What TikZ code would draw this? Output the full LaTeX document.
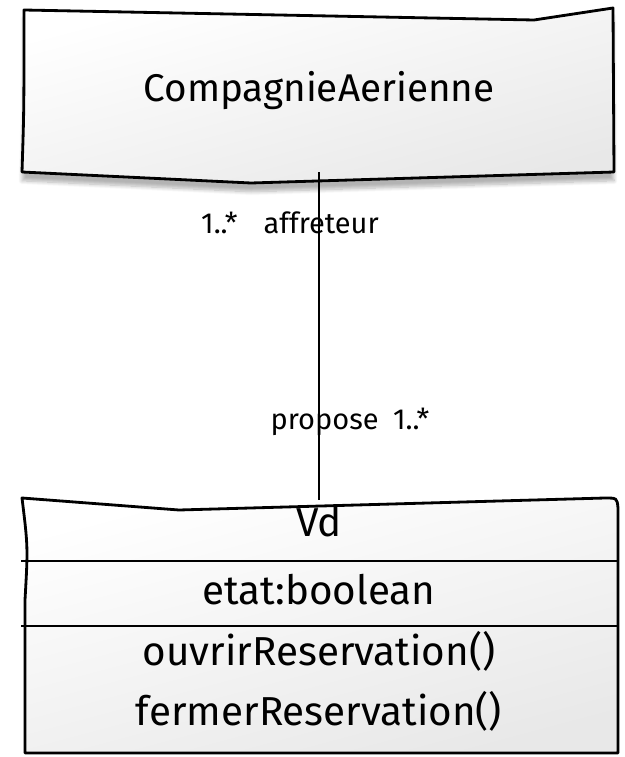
\documentclass[tikz,border=0pt]{standalone}
\usepackage{fontspec}
\setmainfont{Fira Sans}
\usetikzlibrary{shadows.blur}

\begin{document}
\begin{tikzpicture}[x=0.02cm, y=-0.02cm,
  box/.style={line width=1.6pt, line join=round, shading=axis,
    top color=white, bottom color=black!9, shading angle=15},
  sep/.style={line width=1.3pt},
  title/.style={font=\fontsize{22}{26}\selectfont},
  member/.style={font=\fontsize{23}{27}\selectfont},
  role/.style={font=\fontsize{16.5}{19}\selectfont},
  assoc/.style={line width=1.1pt}]
  \useasboundingbox (0,0) rectangle (625,757);

  % class CompagnieAerienne, hand-drawn outline with a soft shadow
  \path[box, draw, blur shadow={shadow xshift=0pt, shadow yshift=-5pt,
      shadow blur steps=8, shadow opacity=30}]
    (24,10) -- (534,20) -- (613,8) -- (614,172) -- (251,183) -- (22,172)
    .. controls (24,110) .. cycle;
  \node[title, minimum height=3.24cm] (compagnie) at (319,91) {CompagnieAerienne};

  % class Vd with its two compartments
  \path[box, draw]
    (22,498) -- (179,510) -- (605,498) .. controls (617,498) .. (618,508)
    -- (618,753) -- (25,753) -- (25,600) .. controls (28,547) .. cycle;
  \draw[sep] (21,561) -- (619,561);
  \draw[sep] (21,626) -- (619,626);
  \node[member, minimum height=0.68cm] (vd) at (319,522) {Vd};
  \node[member] (etat) at (319,590) {etat:boolean};
  \node[member] (ouvrir) at (319,651) {ouvrirReservation()};
  \node[member] (fermer) at (319,711) {fermerReservation()};

  % association ends
  \node[role, anchor=base] (affreteur) at (290,233) {1..*\hspace{0.9em}affreteur};
  \node[role, anchor=base] (propose) at (350,429) {propose\hspace{0.5em}1..*};

  \draw[assoc] (compagnie.south) -- (vd.north);
\end{tikzpicture}
\end{document}
